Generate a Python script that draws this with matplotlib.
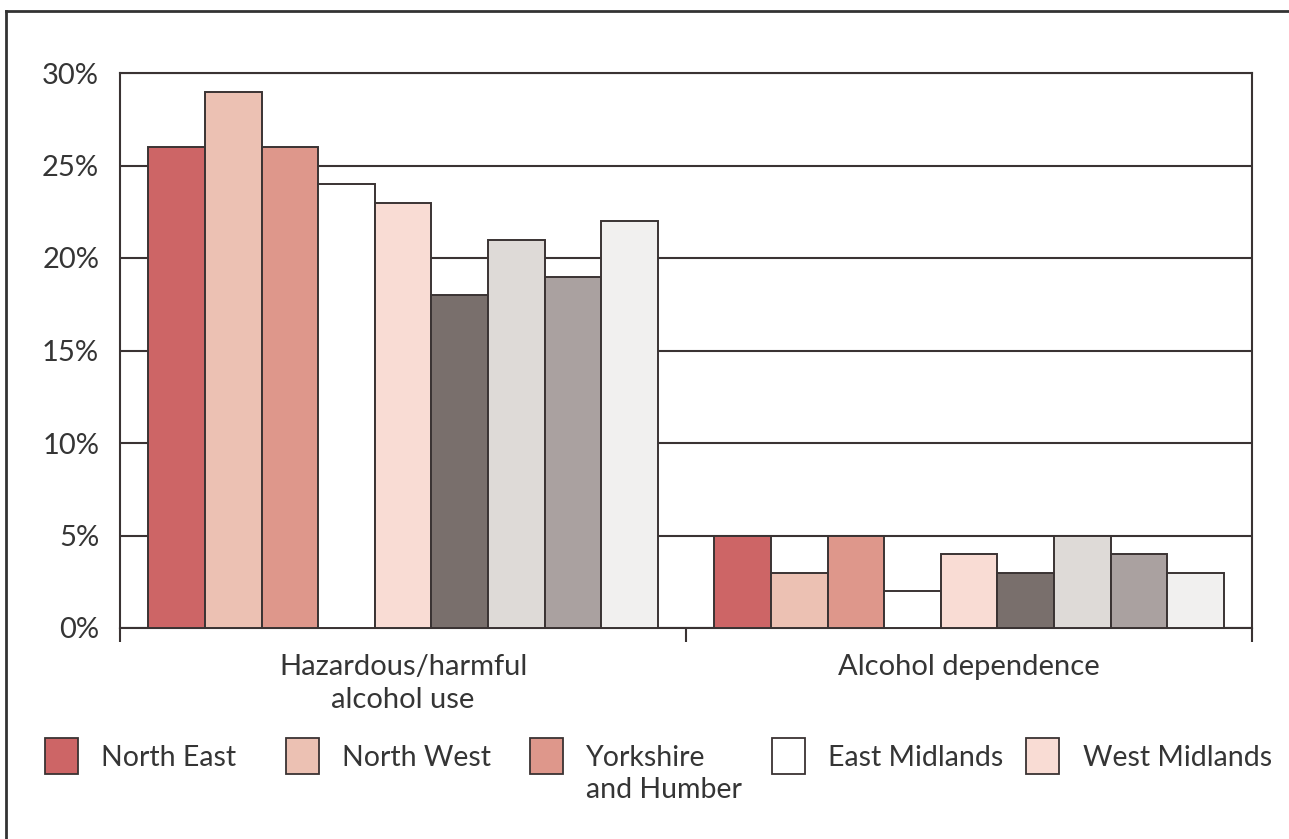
import numpy as np
import matplotlib
matplotlib.use("Agg")
import matplotlib.pyplot as plt
from matplotlib.patches import Rectangle
from matplotlib.lines import Line2D

plt.rcParams["font.family"] = ["Lato", "DejaVu Sans"]

# Data
measures = ["Hazardous/harmful\nalcohol use", "Alcohol dependence"]
regions = ["North East", "North West", "Yorkshire\nand Humber", "East Midlands",
           "West Midlands", "East of England", "London", "South East", "South West"]
hazardous = [26, 29, 26, 24, 23, 18, 21, 19, 22]
dependence = [5, 3, 5, 2, 4, 3, 5, 4, 3]
colors = ["#cd6566", "#ecc1b3", "#de978b", "#ffffff", "#f9dcd4",
          "#796f6c", "#dedad7", "#aaa1a0", "#f1f0ef"]
yticks = [0, 5, 10, 15, 20, 25, 30]
ytick_labels = ["0%", "5%", "10%", "15%", "20%", "25%", "30%"]
legend_count = 5

W, H = 1289, 839
fig = plt.figure(figsize=(W / 100, H / 100), dpi=100)
fig.patch.set_facecolor("white")

def px(x, y):
    return x / W, 1 - y / H

ax = fig.add_axes([120 / W, 1 - 628 / H, (1252 - 120) / W, (628 - 73) / H])

line_col = "#3a3333"
text_col = "#353535"
x = np.arange(len(measures))
width = 0.1
for i, reg in enumerate(regions):
    vals = [hazardous[i], dependence[i]]
    ax.bar(x + (i - (len(regions) - 1) / 2) * width, vals, width,
           color=colors[i], edgecolor=line_col, linewidth=1.4, zorder=3)

ax.set_xlim(-0.5, 1.5)
ax.set_ylim(0, 30)
ax.set_yticks(yticks)
ax.set_yticklabels(ytick_labels)
ax.yaxis.grid(True, color=line_col, linewidth=1.5, zorder=0)
ax.set_axisbelow(True)
ax.tick_params(axis="y", length=0, pad=15, labelsize=21, labelcolor=text_col)

ax.set_xticks([-0.5, 0.5, 1.5])
ax.set_xticklabels([])
ax.tick_params(axis="x", which="major", length=10, width=1.5, color=line_col, direction="out")
ax.set_xticks(x, minor=True)
ax.set_xticklabels(measures, minor=True, fontsize=21, color=text_col, linespacing=1.3)
ax.tick_params(axis="x", which="minor", length=0, pad=19)

for s in ax.spines.values():
    s.set_color(line_col)
    s.set_linewidth(1.5)

# Legend entries laid out along the bottom
hx = [45, 286, 530, 772, 1026]
tx = [101, 342, 586, 828, 1083]
for i in range(legend_count):
    x0, y0 = px(hx[i], 774)
    fig.patches.append(Rectangle((x0, y0), 33 / W, 36 / H, transform=fig.transFigure,
                                 facecolor=colors[i], edgecolor=line_col, linewidth=1.3))
    tx0, ty0 = px(tx[i], 745)
    fig.text(tx0, ty0, regions[i], fontsize=20.5, color=text_col, va="top", ha="left",
             linespacing=1.3)

# Page frame
fig.add_artist(Line2D([6 / W, 6 / W], [0, 1 - 11 / H], transform=fig.transFigure,
                      color="#333333", linewidth=2))
fig.add_artist(Line2D([6 / W, 1], [1 - 11 / H, 1 - 11 / H], transform=fig.transFigure,
                      color="#333333", linewidth=2))

fig.savefig("out.png", dpi=100)
